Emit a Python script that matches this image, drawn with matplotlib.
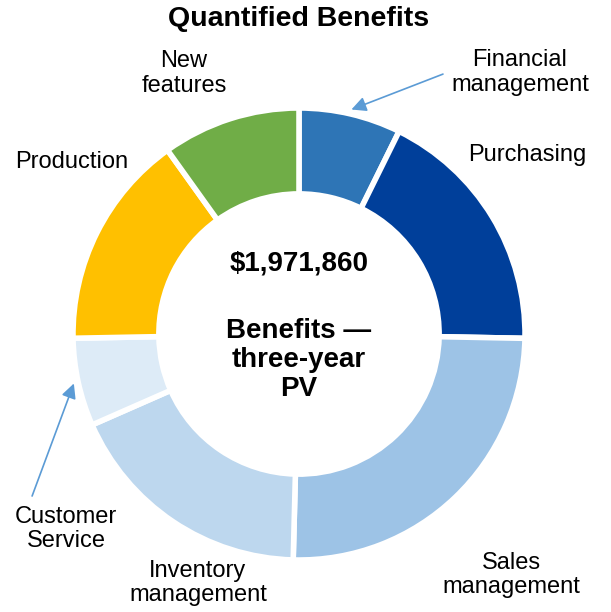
import matplotlib
matplotlib.use('Agg')
import matplotlib.pyplot as plt
import numpy as np

plt.rcParams['font.family'] = ['Liberation Sans', 'DejaVu Sans']

# benefit categories (clockwise from 12 o'clock) and estimated values ($)
categories = ['Financial\nmanagement', 'Purchasing', 'Sales\nmanagement',
              'Inventory\nmanagement', 'Customer\nService', 'Production',
              'New\nfeatures']
values = [144000, 355000, 495000, 355000, 124000, 304000, 194860]
colors = ['#2E75B6', '#003F9A', '#9DC3E6', '#BDD7EE', '#DDEBF7', '#FFC000', '#70AD47']
total_text = '$1,971,860'
center_text = 'Benefits \u2014\nthree-year\nPV'

W, H = 611, 612
fig = plt.figure(figsize=(W/100, H/100), dpi=100)
cx, cy, R = 299, 334, 226
ax = fig.add_axes([(cx-R)/W, (H-cy-R)/H, 2*R/W, 2*R/H])

wedges, _ = ax.pie(values, colors=colors, startangle=90, counterclock=False,
                   radius=1.0, wedgeprops=dict(width=0.38, edgecolor='white', linewidth=4))
ax.set_xlim(-1, 1)
ax.set_ylim(-1, 1)
ax.axis('off')

lfs = 17
# label positions in data units (radius = 1)
label_pos = {
    'Financial\nmanagement': (0.978, 1.157),
    'Purchasing': (1.009, 0.792),
    'Sales\nmanagement': (0.938, -1.066),
    'Inventory\nmanagement': (-0.447, -1.102),
    'Customer\nService': (-1.031, -0.863),
    'Production': (-1.004, 0.761),
    'New\nfeatures': (-0.509, 1.153),
}
arrow_tail = {
    'Financial\nmanagement': (0.637, 1.150),
    'Customer\nService': (-1.181, -0.717),
}

for w, cat in zip(wedges, categories):
    x, y = label_pos[cat]
    ax.text(x, y, cat, ha='center', va='center', fontsize=lfs,
            linespacing=1.15, clip_on=False)
    if cat in arrow_tail:
        mid = np.deg2rad((w.theta1 + w.theta2) / 2)
        hx, hy = 1.02*np.cos(mid), 1.02*np.sin(mid)
        ax.annotate('', xy=(hx, hy), xytext=arrow_tail[cat],
                    arrowprops=dict(arrowstyle='-|>', color='#5B9BD5', lw=1.2,
                                    mutation_scale=22, shrinkA=0, shrinkB=0),
                    annotation_clip=False)

ax.text(0, 0.314, total_text, ha='center', va='center', fontsize=20, fontweight='bold')
ax.text(0, -0.115, center_text, ha='center', va='center', fontsize=20,
        fontweight='bold', linespacing=1.15)

fig.text(0.489, 1-19/H, 'Quantified Benefits', ha='center', va='center',
         fontsize=20.5, fontweight='bold')

fig.savefig('out.png', dpi=100)
